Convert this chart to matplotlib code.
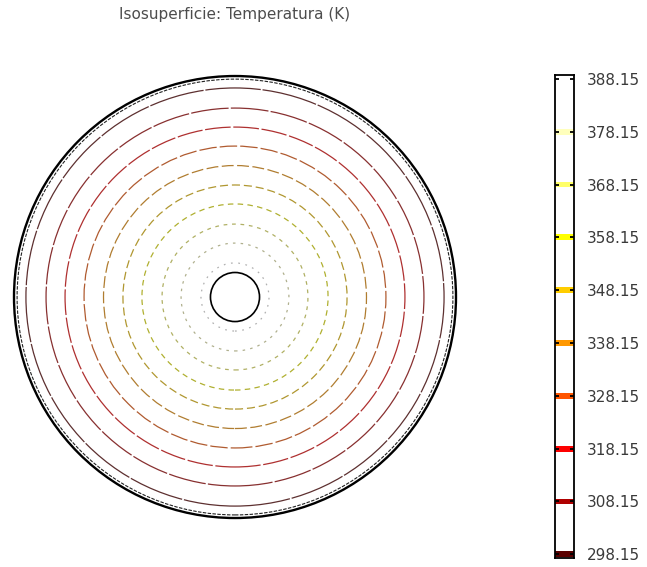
import numpy as np
import matplotlib
matplotlib.use('Agg')
import matplotlib.pyplot as plt
from matplotlib.patches import Circle
from matplotlib.colors import LinearSegmentedColormap, to_rgb

# isosurface levels (K) and the radius (mm) where each one cuts the top view
levels = [298.15, 308.15, 318.15, 328.15, 338.15, 348.15, 358.15, 368.15, 378.15, 388.15]
ring_radius = [94.6, 85.5, 76.9, 68.3, 59.5, 50.7, 42.1, 33.0, 24.4, 15.4]

# geometry edges (mm)
outer_radius = 100.0
inner_edge_radius = 98.6
hole_radius = 11.1

tick_labels = ['%.2f' % v for v in levels]
t_min, t_max = 297.45, 388.9

plt.rcParams['lines.scale_dashes'] = False
plt.rcParams['font.family'] = 'DejaVu Sans'

# thermal colour table
thermal = LinearSegmentedColormap.from_list(
    'thermal', ['#5a0000', '#b00000', '#ff0000', '#ff5500', '#ff9900',
                '#ffcc00', '#ffff00', '#ffff66', '#ffffbb', '#ffffff'])


def cval(t):
    return thermal((t - levels[0]) / (levels[-1] - levels[0]))


def shaded(t):
    # isosurfaces look dimmer than the legend because of the lighting
    c = np.array(to_rgb(cval(t)))
    return tuple(c * 0.5 + 0.19)


fig = plt.figure(figsize=(6.47, 5.67), dpi=100)

# main view
ax = fig.add_axes([0.00456, 0.0669, 0.7173, 0.8185])
ax.set_xlim(-105, 105)
ax.set_ylim(-105, 105)
ax.set_aspect('equal')
ax.axis('off')

for i, (r, t) in enumerate(zip(ring_radius, levels)):
    on = max(0.9, 40 * 0.68 ** i)
    off = 1.3 + 0.3 * i
    ax.add_patch(Circle((0, 0), r, fill=False, edgecolor=shaded(t),
                        linewidth=0.9, linestyle=(0, (on, off))))

ax.add_patch(Circle((0, 0), outer_radius, fill=False, edgecolor='black', linewidth=1.7))
ax.add_patch(Circle((0, 0), inner_edge_radius, fill=False, edgecolor='#222222',
                    linewidth=0.8, linestyle=(0, (2.5, 1))))
ax.add_patch(Circle((0, 0), hole_radius, fill=False, edgecolor='black', linewidth=1.2))

fig.text(235 / 647, 1 - 15 / 567, 'Isosuperficie: Temperatura (K)',
         ha='center', va='center', fontsize=11, color='#4d4d4d')

# colour legend
cax = fig.add_axes([0.8578, 0.01587, 0.0298, 0.8519])
cax.set_xlim(0, 1)
cax.set_ylim(t_min, t_max)
cax.barh(levels, [1] * len(levels), height=1.1, left=0,
         color=[cval(t) for t in levels], edgecolor='none')
cax.set_xticks([])
cax.set_yticks(levels)
cax.set_yticklabels(tick_labels)
cax.tick_params(axis='y', direction='in', length=3, width=1.3, left=True, right=True,
                labelleft=False, labelright=True, labelsize=11, labelcolor='#3a3a3a', pad=9)
for s in cax.spines.values():
    s.set_linewidth(1.3)
    s.set_color('black')

fig.savefig('out.png', dpi=100)
